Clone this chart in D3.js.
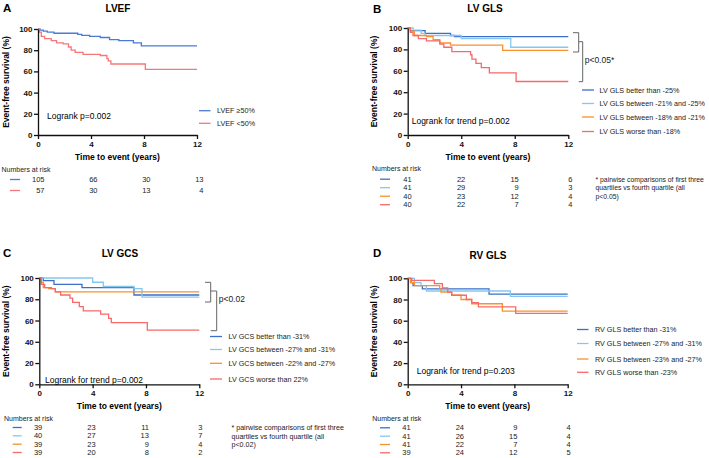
<!DOCTYPE html>
<html><head><meta charset="utf-8">
<script src="https://cdn.jsdelivr.net/npm/d3@7"></script>
<style>body{margin:0;background:#fff}svg{display:block;font-family:"Liberation Sans",Arial,Helvetica,sans-serif}</style>
</head><body><svg id="c" width="709" height="458"></svg>
<script>
// ---------- shared ----------
const timeTicks = [0, 4, 8, 12];
const survTicks = [0, 20, 40, 60, 80, 100];
const colors4 = ["#3d6fc9", "#84c8f1", "#f7922c", "#f56a6a"];
const colorsA = ["#4a7bd3", "#f47878"];

// ---------- Panel A: LVEF ----------
const labelsA = ["LVEF \u226550%", "LVEF <50%"];
const lvefHigh = [[0,100],[0.15,99],[0.4,98],[0.7,97],[1.2,96],[3.0,95],[3.3,94],[3.9,93],[4.7,92],[5.4,90],[6.1,89],[7.2,87],[7.8,84]];
const lvefLow  = [[0,100],[0.1,97],[0.25,93],[0.5,91],[1.0,89],[1.4,87],[1.9,86],[2.3,83],[2.5,80],[2.8,78],[3.4,76],[4.7,75],[5.2,72],[5.3,70],[5.5,67],[8.1,62]];
const riskA = [[105,66,30,13],[57,30,13,4]];

// ---------- Panel B: LV GLS ----------
const labelsB = ["LV GLS better than -25%", "LV GLS between -21% and -25%", "LV GLS between -18% and -21%", "LV GLS worse than -18%"];
const glsQ1 = [[0,100],[0.2,97.5],[1.3,95],[3.2,93],[3.5,92]];
const glsQ2 = [[0,100],[0.4,98],[1.0,95],[1.3,93],[4.0,90],[7.7,82]];
const glsQ3 = [[0,100],[0.2,97],[0.5,93],[1.4,92],[1.9,89],[2.4,86],[3.2,84],[7.1,79]];
const glsQ4 = [[0,100],[0.2,96],[0.4,93],[0.8,90],[1.4,88],[2.4,85],[2.7,82],[3.3,78],[4.7,75],[4.8,71],[5.1,67],[5.5,63],[6.1,58],[8.1,50]];
const riskB = [[41,22,15,6],[41,29,9,3],[40,23,12,4],[40,22,7,4]];

// ---------- Panel C: LV GCS ----------
const labelsC = ["LV GCS better than -31%", "LV GCS between -27% and -31%", "LV GCS between -22% and -27%", "LV GCS worse than 22%"];
const gcsQ1 = [[0,100],[0.3,97.5],[1.1,94],[3.2,91],[7.1,84]];
const gcsQ2 = [[0,100],[4.0,96],[4.8,92],[7.1,90],[7.7,82]];
const gcsQ3 = [[0,100],[0.15,96],[0.3,91],[0.7,90],[1.2,87]];
const gcsQ4 = [[0,100],[0.15,94],[0.4,91],[0.9,90],[1.2,87],[1.6,84],[2.3,81],[2.5,77],[3.0,73],[3.3,69],[4.6,66],[5.2,62],[5.4,58],[8.1,51]];
const riskC = [[39,23,11,3],[40,27,13,7],[39,23,9,4],[39,20,8,2]];

// ---------- Panel D: RV GLS ----------
const labelsD = ["RV GLS better than -31%", "RV GLS between -27% and -31%", "RV GLS between -23% and -27%", "RV GLS worse than -23%"];
const rvQ1 = [[0,100],[0.25,96],[0.4,93],[1.1,90],[6.1,85]];
const rvQ2 = [[0,100],[0.5,96],[1.0,93],[1.4,88],[7.7,83]];
const rvQ3 = [[0,100],[0.2,96],[0.5,93],[2.4,90],[2.5,87],[3.3,84],[4.0,80],[4.8,76],[7.1,69]];
const rvQ4 = [[0,100],[0.3,98],[2.0,95],[2.6,91],[3.0,87],[3.3,84],[4.4,80],[4.8,77],[5.3,73],[8.1,67]];
const riskD = [[41,24,9,4],[41,26,15,4],[41,22,7,4],[39,24,12,5]];

const svg = d3.select("#c");

function panel(cfg) {
  const g = svg.append("g");
  const x = d3.scaleLinear().domain([0, 12]).range([cfg.x0, cfg.x1]);
  const y = d3.scaleLinear().domain([0, 100]).range([cfg.yb, cfg.yt]);

  // letter + title
  g.append("text").attr("x", cfg.letter[0]).attr("y", cfg.letter[1]).attr("font-size", 11.5).attr("font-weight", "bold").text(cfg.letterText);
  g.append("text").attr("x", cfg.title[0]).attr("y", cfg.title[1]).attr("text-anchor", "middle").attr("font-size", 10).attr("font-weight", "bold").text(cfg.titleText);

  // curves
  const line = d3.line().x(d => x(d[0])).y(d => y(d[1])).curve(d3.curveStepAfter);
  cfg.series.forEach((s, i) => {
    const pts = s.concat([[12, s[s.length - 1][1]]]);
    g.append("path").attr("d", line(pts)).attr("fill", "none").attr("stroke", cfg.colors[i]).attr("stroke-width", 1.3);
  });

  // axes
  const ax = g.append("g").attr("transform", `translate(0,${cfg.yb})`).call(d3.axisBottom(x).tickValues(timeTicks).tickSize(4).tickSizeOuter(0).tickPadding(2));
  const ay = g.append("g").attr("transform", `translate(${cfg.x0},0)`).call(d3.axisLeft(y).tickValues(survTicks).tickSize(4).tickSizeOuter(0).tickPadding(1.5));
  [ax, ay].forEach(a => {
    a.selectAll("path,line").attr("stroke", "#111").attr("stroke-width", 1.3);
    a.selectAll("text").attr("font-family", "Liberation Sans, Arial, sans-serif").attr("font-size", 8).attr("font-weight", "bold").attr("fill", "#111");
  });

  // axis titles
  g.append("text").attr("x", (cfg.x0 + cfg.x1) / 2).attr("y", cfg.yb + 25).attr("text-anchor", "middle").attr("font-size", 8.5).attr("font-weight", "bold").text("Time to event (years)");
  g.append("text").attr("transform", `translate(${cfg.ylab},${(cfg.yt + cfg.yb) / 2}) rotate(-90)`).attr("text-anchor", "middle").attr("font-size", 8.5).attr("font-weight", "bold").text("Event-free survival (%)");

  // logrank
  g.append("text").attr("x", cfg.logrank[0]).attr("y", cfg.logrank[1]).attr("font-size", 8.5).text(cfg.logrankText);

  // legend
  cfg.labels.forEach((l, i) => {
    const ly = cfg.legendY[i];
    g.append("line").attr("x1", cfg.legendX[0]).attr("x2", cfg.legendX[1]).attr("y1", ly).attr("y2", ly).attr("stroke", cfg.colors[i]).attr("stroke-width", 1.3);
    g.append("text").attr("x", cfg.legendX[2]).attr("y", ly + 2.5).attr("font-size", 7.2).attr("fill", "#222").text(l);
  });

  // numbers at risk
  g.append("text").attr("x", cfg.riskLabel[0]).attr("y", cfg.riskLabel[1]).attr("font-size", 7).attr("fill", "#222").text("Numbers at risk");
  cfg.risk.forEach((row, i) => {
    const ry = cfg.riskY[i];
    g.append("line").attr("x1", cfg.swatch[0]).attr("x2", cfg.swatch[1]).attr("y1", ry - 2.5).attr("y2", ry - 2.5).attr("stroke", cfg.colors[i]).attr("stroke-width", 1.3);
    row.forEach((v, j) => {
      g.append("text").attr("x", x(timeTicks[j]) + cfg.riskOff).attr("y", ry).attr("text-anchor", "end").attr("font-size", 7.5).attr("fill", "#222").text(v);
    });
  });

  // brackets
  if (cfg.bracket) {
    const b = cfg.bracket;
    const p1 = `M${b.a0},${b.t1}H${b.a1}V${b.b1}H${b.a0}`;
    const p2 = `M${b.a1},${b.t2}H${b.a2}V${b.b2}H${b.a1}`;
    [p1, p2].forEach(p => g.append("path").attr("d", p).attr("stroke", "#666").attr("stroke-width", 1).attr("fill", "none"));
    g.append("text").attr("x", b.a2 + 2).attr("y", b.ty).attr("font-size", 8.5).attr("fill", "#222").text(b.text);
  }

  // footnote
  if (cfg.foot) {
    cfg.foot.lines.forEach((t, i) => {
      g.append("text").attr("x", cfg.foot.x).attr("y", cfg.foot.y[i]).attr("font-size", cfg.foot.size).attr("fill", "#222").text(t);
    });
  }
}

panel({
  x0: 38, x1: 197, yt: 29, yb: 135, ylab: 9,
  letterText: "A", letter: [3, 12], titleText: "LVEF", title: [118, 11.5],
  series: [lvefHigh, lvefLow], colors: colorsA, labels: labelsA,
  logrankText: "Logrank p=0.002", logrank: [47, 119],
  legendX: [199, 210.5, 217], legendY: [110.7, 123.3],
  riskLabel: [1.5, 172], risk: riskA, riskY: [182, 193], swatch: [10, 20], riskOff: 6.5
});

panel({
  x0: 407.7, x1: 568.3, yt: 28, yb: 135, ylab: 376.5,
  letterText: "B", letter: [373, 12.5], titleText: "LV GLS", title: [485, 11.5],
  series: [glsQ1, glsQ2, glsQ3, glsQ4], colors: colors4, labels: labelsB,
  logrankText: "Logrank for trend p=0.002", logrank: [411.7, 123.5],
  legendX: [582, 594, 599.5], legendY: [90, 103.5, 117, 131.5],
  riskLabel: [372, 170.5], risk: riskB, riskY: [181.7, 190.2, 198.7, 207.2], swatch: [380, 390], riskOff: 4,
  bracket: {a0: 573, a1: 578.7, a2: 582.7, t1: 32.7, b1: 52, t2: 41.7, b2: 81.7, ty: 63, text: "p<0.05*"},
  foot: {x: 595.5, size: 6.85, y: [181.5, 190, 198.5], lines: ["* pairwise comparisons of first three", "quartiles vs fourth quartile (all", "p<0.05)"]}
});

panel({
  x0: 39.3, x1: 199.3, yt: 278, yb: 384.3, ylab: 8.5,
  letterText: "C", letter: [3, 256.5], titleText: "LV GCS", title: [120, 257],
  series: [gcsQ1, gcsQ2, gcsQ3, gcsQ4], colors: colors4, labels: labelsC,
  logrankText: "Logrank for trend p=0.002", logrank: [45, 382.5],
  legendX: [210, 222, 228.5], legendY: [336.5, 349.5, 363.3, 379],
  riskLabel: [4, 421], risk: riskC, riskY: [430, 438.3, 446.7, 455], swatch: [12.7, 21.7], riskOff: 3,
  bracket: {a0: 205, a1: 210.7, a2: 216.7, t1: 282.3, b1: 302, t2: 291, b2: 330.7, ty: 302, text: "p<0.02"},
  foot: {x: 231.5, size: 7.1, y: [430, 438.5, 447], lines: ["* pairwise comparisons of first three", "quartiles vs fourth quartile (all", "p<0.02)"]}
});

panel({
  x0: 407.7, x1: 567.7, yt: 278.3, yb: 384.3, ylab: 376.5,
  letterText: "D", letter: [373, 257], titleText: "RV GLS", title: [488, 258.5],
  series: [rvQ1, rvQ2, rvQ3, rvQ4], colors: colors4, labels: labelsD,
  logrankText: "Logrank for trend p=0.203", logrank: [416.7, 374],
  legendX: [577, 588.5, 595], legendY: [329.5, 343.5, 359, 372.3],
  riskLabel: [372.3, 421], risk: riskD, riskY: [430.3, 438.7, 447, 455.3], swatch: [380, 390], riskOff: 3
});
</script></body></html>
